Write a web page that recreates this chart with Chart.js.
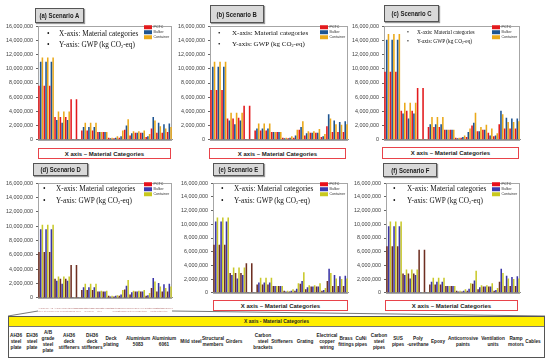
<!DOCTYPE html>
<html>
<head>
<meta charset="utf-8">
<script src="https://cdn.jsdelivr.net/npm/chart.js@4.4.1/dist/chart.umd.min.js"></script>
<style>
  body { margin: 0; width: 550px; height: 360px; background: #fff; position: relative; overflow: hidden;
         font-family: Arial, "Liberation Sans", sans-serif; }
  canvas, .abs { position: absolute; }
  .title { background: #d9d9d9; border: 1px solid #555; box-shadow: 1px 1px 1px #999; color: #1a1a1a;
           font-weight: bold; font-size: 7px; display: flex; align-items: center; justify-content: center; }
  .title span { display: inline-block; transform: scaleX(0.85); white-space: nowrap; }
  .redbox { border: 1px solid #e8434a; background: #fff; color: #1a1a1a; font-weight: bold; font-size: 6px;
            display: flex; align-items: center; justify-content: center; box-sizing: border-box; }
  .note { font-family: "Liberation Serif", "Times New Roman", serif; color: #111; white-space: nowrap; line-height: 1; }
  .table { left: 8px; top: 316px; width: 537px; height: 42px; border: 1px solid #555; box-sizing: border-box; background: #fff; }
  .thead { left: 0; top: 0; width: 100%; height: 9px; background: #ffee00; border-bottom: 1px solid #777;
           font-weight: bold; font-size: 5px; color: #222; text-align: center; line-height: 9px; }
  .cell { width: 34px; top: 10px; height: 30px; display: flex; align-items: center; justify-content: center;
          text-align: center; font-weight: bold; font-size: 4.7px; line-height: 6px; color: #222; }
</style>
</head>
<body>
<svg class="abs" style="left:0;top:0" width="550" height="360">
  <line x1="38" y1="311" x2="8" y2="316" stroke="#555" stroke-width="0.8"/>
  <line x1="172" y1="311" x2="545" y2="316" stroke="#555" stroke-width="0.8"/>
</svg>
<script>
// material categories (x axis)
const categories = [
  ['AH36', 'steel', 'plate'], ['EH36', 'steel', 'plate'], ['A/B', 'grade', 'steel', 'plate'],
  ['AH36', 'deck', 'stiffeners'], ['DH36', 'deck', 'stiffeners'], ['Deck', 'plating'],
  ['Aluminium', '5083'], ['Aluminium', '6061'], ['Mild steel'], ['Structural', 'members'], ['Girders'],
  ['Carbon', 'steel', 'brackets'], ['Stiffeners'], ['Grating'], ['Electrical', 'copper', 'wiring'],
  ['Brass', 'fittings'], ['CuNi', 'pipes'], ['Carbon', 'steel', 'pipes'], ['SUS', 'pipes'],
  ['Poly', '-urethane'], ['Epoxy'], ['Anticorrosive', 'paints'], ['Ventilation', 'units'],
  ['Ramp', 'motors'], ['Cables']
];
const seriesNames = ['PCTC', 'Bulker', 'Container'];

// GWP, million kg CO2-eq
const pctcA      = [7.6, 7.6, 7.6, 3.2, 3.2, 3.2, 5.7, 5.7, 1.3, 1.3, 1.3, 1.1, 1.1, 0.3, 0.2, 0.3, 1.4, 0.6, 1.0, 1.0, 0.4, 1.6, 1.0, 1.0, 1.1];
const bulkerA    = [11.0, 11.0, 11.0, 2.8, 2.4, 2.8, 0.1, 0.1, 1.8, 1.8, 1.8, 1.1, 1.1, 0.2, 0.3, 0.5, 2.0, 0.9, 1.0, 1.0, 0.5, 3.2, 2.4, 2.2, 2.3];
const containerA = [11.6, 11.6, 11.6, 4.0, 4.0, 4.0, 0.1, 0.1, 2.4, 2.4, 2.4, 1.1, 1.1, 0.3, 0.5, 1.3, 2.9, 1.2, 1.2, 1.3, 0.8, 2.7, 1.9, 1.6, 1.8];

const pctcB      = [7.0, 7.0, 7.0, 3.0, 3.0, 3.1, 4.8, 4.8, 1.3, 1.3, 1.3, 1.1, 1.1, 0.3, 0.2, 0.3, 1.4, 0.6, 1.0, 1.0, 0.4, 1.9, 1.1, 1.1, 1.1];
const bulkerB    = [10.3, 10.3, 10.3, 2.7, 2.2, 2.7, 0.1, 0.1, 1.6, 1.6, 1.6, 1.1, 1.1, 0.2, 0.3, 0.6, 1.8, 0.9, 1.0, 1.0, 0.5, 3.6, 2.7, 2.5, 2.6];
const containerB = [11.0, 11.0, 11.0, 3.8, 3.8, 3.8, 0.1, 0.1, 2.3, 2.3, 2.3, 1.1, 1.1, 0.3, 0.5, 1.4, 2.6, 1.2, 1.2, 1.5, 0.8, 3.0, 2.2, 2.1, 2.2];

const pctcC      = [9.6, 9.6, 9.6, 4.1, 4.1, 4.1, 7.3, 7.3, 1.8, 1.8, 1.8, 1.4, 1.4, 0.3, 0.3, 0.4, 2.0, 1.2, 1.4, 1.0, 0.5, 2.2, 1.6, 1.6, 1.6];
const bulkerC    = [14.1, 14.1, 14.1, 3.7, 3.0, 3.7, 0.1, 0.1, 2.2, 2.2, 2.2, 1.4, 1.4, 0.2, 0.4, 1.1, 2.4, 1.2, 1.4, 0.6, 0.6, 4.1, 3.1, 3.0, 3.0];
const containerC = [14.9, 14.9, 14.9, 5.2, 5.2, 5.2, 0.1, 0.1, 3.2, 3.2, 3.2, 1.4, 1.4, 0.3, 0.6, 1.6, 3.8, 1.8, 2.1, 1.6, 0.9, 3.6, 2.5, 2.5, 2.6];

const pctcD      = [6.4, 6.4, 6.4, 2.7, 2.7, 2.7, 4.6, 4.6, 1.1, 1.1, 1.1, 0.9, 0.9, 0.3, 0.2, 0.3, 1.2, 0.5, 0.9, 0.9, 0.3, 1.4, 0.9, 0.9, 0.9];
const bulkerD    = [9.6, 9.6, 9.6, 2.4, 2.0, 2.4, 0.1, 0.1, 1.5, 1.5, 1.5, 0.9, 0.9, 0.2, 0.3, 0.5, 1.7, 0.8, 0.9, 0.9, 0.4, 2.8, 2.1, 1.9, 2.0];
const containerD = [10.2, 10.2, 10.2, 3.0, 3.0, 3.0, 0.1, 0.1, 2.0, 2.0, 2.0, 1.0, 1.0, 0.3, 0.4, 1.1, 2.5, 1.0, 1.0, 1.1, 0.7, 2.3, 1.6, 1.4, 1.6];

const pctcE      = [7.0, 7.0, 7.0, 2.9, 2.9, 2.9, 4.3, 4.3, 1.2, 1.2, 1.2, 1.0, 1.0, 0.3, 0.2, 0.3, 1.3, 0.5, 0.9, 0.9, 0.3, 1.7, 1.0, 1.0, 1.0];
const bulkerE    = [10.4, 10.4, 10.4, 2.6, 2.1, 2.6, 0.1, 0.1, 1.5, 1.5, 1.5, 1.0, 1.0, 0.2, 0.3, 0.6, 1.7, 0.8, 0.9, 0.9, 0.4, 3.5, 2.6, 2.4, 2.5];
const containerE = [11.0, 11.0, 11.0, 3.7, 3.7, 3.7, 0.1, 0.1, 2.2, 2.2, 2.2, 1.0, 1.0, 0.3, 0.5, 1.4, 3.0, 1.1, 1.1, 1.4, 0.7, 2.9, 2.1, 2.0, 2.1];

const pctcF      = [6.8, 6.8, 6.8, 2.8, 2.8, 2.8, 6.3, 6.3, 1.2, 1.2, 1.2, 1.0, 1.0, 0.3, 0.2, 0.3, 1.3, 0.5, 0.9, 0.9, 0.3, 1.6, 1.0, 1.0, 1.0];
const bulkerF    = [9.7, 9.7, 9.7, 2.6, 2.1, 2.6, 0.1, 0.1, 1.6, 1.6, 1.6, 1.0, 1.0, 0.2, 0.3, 0.6, 1.8, 0.8, 0.9, 0.9, 0.4, 3.5, 2.5, 2.3, 2.4];
const containerF = [10.4, 10.4, 10.4, 3.4, 3.4, 3.4, 0.1, 0.1, 2.2, 2.2, 2.2, 1.0, 1.0, 0.3, 0.5, 1.4, 3.2, 1.1, 1.1, 1.4, 0.7, 2.9, 2.1, 2.0, 2.1];

const yMax = 16;
const yStep = 2;

var topColors = ['#e31a1c', '#1d5491', '#eaa91a'];
var bottomColors = ['#6e2f22', '#3a34a6', '#c9c92a'];
var bottomKey = ['#e8101c', '#3a3ab0', '#c8c81e'];

// panel layout: plot box [left, top, right, bottom]
var panels = [
  { title: '(a) Scenario A', plot: [38, 25, 172, 145], series: [pctcA, bulkerA, containerA], colors: topColors, key: topColors,
    tbox: [35, 8, 82, 21], note: [11, 21, 9, 20, 7.3], red: [38, 148, 171, 159] },
  { title: '(b) Scenario B', plot: [210, 25, 348, 145], series: [pctcB, bulkerB, containerB], colors: topColors, key: topColors,
    tbox: [210, 5, 262, 21], note: [10, 22, 9, 20, 7.0], red: [209, 148, 346, 159] },
  { title: '(c) Scenario C', plot: [384, 25, 520, 145], series: [pctcC, bulkerC, containerC], colors: topColors, key: topColors,
    tbox: [384, 5, 437, 20], note: [25, 33, 8, 17, 5.3], red: [382, 147, 519, 159] },
  { title: '(d) Scenario D', plot: [38, 182, 172, 298], series: [pctcD, bulkerD, containerD], colors: bottomColors, key: bottomKey,
    tbox: [33, 163, 86, 174], note: [7, 18, 7, 19, 7.3], red: null, xLabels: true },
  { title: '(e) Scenario E', plot: [213, 182, 348, 298], series: [pctcE, bulkerE, containerE], colors: bottomColors, key: bottomKey,
    tbox: [213, 163, 262, 174], note: [10, 21, 7, 19, 7.3], red: [213, 300, 348, 311] },
  { title: '(f) Scenario F', plot: [386, 182, 520, 298], series: [pctcF, bulkerF, containerF], colors: bottomColors, key: bottomKey,
    tbox: [383, 163, 435, 175], note: [9, 21, 7, 19, 7.3], red: [385, 300, 518, 311] }
];

var AXIS_W = 36;
var PAD_TOP = 5;
var PAD_RIGHT = 3;

var framePlugin = {
  id: 'frame',
  beforeDatasetsDraw: function (chart) {
    var a = chart.chartArea, ctx = chart.ctx;
    ctx.save();
    ctx.strokeStyle = '#a6a6a6';
    ctx.lineWidth = 1;
    ctx.strokeRect(Math.round(a.left) + 0.5, Math.round(a.top) + 0.5,
      Math.round(a.right - a.left) - 1, Math.round(a.bottom - a.top));
    ctx.restore();
  }
};

var keyPlugin = {
  id: 'key',
  afterDraw: function (chart, args, opts) {
    var a = chart.chartArea, ctx = chart.ctx;
    var x = a.right - 28;
    ctx.save();
    chart.data.datasets.forEach(function (ds, i) {
      var y = a.top - 1 + i * 5;
      ctx.fillStyle = opts.colors[i];
      ctx.fillRect(x, y, 8, 4);
      ctx.fillStyle = '#333';
      ctx.font = '3.6px Arial';
      ctx.textBaseline = 'middle';
      ctx.fillText(ds.label, x + 9.5, y + 2);
    });
    ctx.restore();
  }
};

function fmt(v) {
  return (v * 1e6).toLocaleString('en-US');
}

function addDiv(cls, l, t, w, h, html, extra) {
  var d = document.createElement('div');
  d.className = 'abs ' + cls;
  d.style.left = l + 'px';
  d.style.top = t + 'px';
  if (w != null) d.style.width = w + 'px';
  if (h != null) d.style.height = h + 'px';
  if (extra) d.style.cssText += extra;
  d.innerHTML = html;
  document.body.appendChild(d);
  return d;
}

panels.forEach(function (p) {
  var left = p.plot[0], top = p.plot[1], right = p.plot[2], bottom = p.plot[3];
  var xH = p.xLabels ? 14 : 1;
  var cv = document.createElement('canvas');
  var w = AXIS_W + (right - left) + PAD_RIGHT;
  var h = PAD_TOP + (bottom - top) + xH;
  cv.width = w;
  cv.height = h;
  cv.style.left = (left - AXIS_W) + 'px';
  cv.style.top = (top - PAD_TOP) + 'px';
  document.body.appendChild(cv);

  var datasets = p.series.map(function (vals, i) {
    return {
      label: seriesNames[i],
      data: vals,
      backgroundColor: p.colors[i],
      borderWidth: 0,
      categoryPercentage: 0.96,
      barPercentage: 0.9
    };
  });

  new Chart(cv.getContext('2d'), {
    type: 'bar',
    data: { labels: categories, datasets: datasets },
    options: {
      responsive: false,
      animation: false,
      devicePixelRatio: 1,
      layout: { padding: { top: PAD_TOP, right: PAD_RIGHT, left: 0, bottom: 0 } },
      plugins: { legend: { display: false }, tooltip: { enabled: false }, key: { colors: p.key } },
      scales: {
        x: {
          grid: { display: false },
          border: { color: '#8c8c8c' },
          ticks: {
            display: !!p.xLabels, autoSkip: false, maxRotation: 0, minRotation: 0, padding: 1,
            color: '#c08a8a', font: { size: 2.2, family: 'Arial' }
          },
          afterFit: function (s) { s.height = xH; }
        },
        y: {
          min: 0, max: yMax,
          ticks: { stepSize: yStep, callback: fmt, color: '#404040', padding: 3, font: { size: 5.4, family: 'Arial' } },
          grid: { drawOnChartArea: false, tickLength: 2, color: '#666' },
          border: { color: '#555' },
          afterFit: function (s) { s.width = AXIS_W; }
        }
      }
    },
    plugins: [framePlugin, keyPlugin]
  });

  // scenario tag
  addDiv('title', p.tbox[0], p.tbox[1], p.tbox[2] - p.tbox[0], p.tbox[3] - p.tbox[1], '<span>' + p.title + '</span>');

  // axis notes
  var n = p.note;
  var fs = n[4];
  addDiv('note', left + n[0] - 2, top + n[2] - fs * 0.55, null, null, '&#8226;', 'font-size:' + fs + 'px');
  addDiv('note', left + n[1], top + n[2] - fs * 0.55, null, null, 'X-axis: Material categories', 'font-size:' + fs + 'px');
  addDiv('note', left + n[0] - 2, top + n[3] - fs * 0.55, null, null, '&#8226;', 'font-size:' + fs + 'px');
  addDiv('note', left + n[1], top + n[3] - fs * 0.55, null, null,
    'Y-axis: GWP (kg CO<sub style="font-size:0.6em;vertical-align:-0.2em">2</sub>-eq)', 'font-size:' + fs + 'px');

  if (p.red) {
    addDiv('redbox', p.red[0], p.red[1], p.red[2] - p.red[0], p.red[3] - p.red[1], 'X axis \u2013 Material Categories');
  }
});

// category table below the charts
var cellCenters = [15, 31, 47, 68, 91, 110, 137, 163, 190, 212, 233, 262, 281, 304, 326, 345, 360, 378, 397, 417, 437, 462, 492, 515, 532];
var table = addDiv('table', 8, 316, null, null, '');
var head = document.createElement('div');
head.className = 'abs thead';
head.textContent = 'X axis - Material Categories';
table.appendChild(head);
categories.forEach(function (lines, i) {
  var c = document.createElement('div');
  c.className = 'abs cell';
  c.style.left = (cellCenters[i] - 8 - 17) + 'px';
  c.innerHTML = '<div>' + lines.join('<br>') + '</div>';
  table.appendChild(c);
});
</script>
</body>
</html>
